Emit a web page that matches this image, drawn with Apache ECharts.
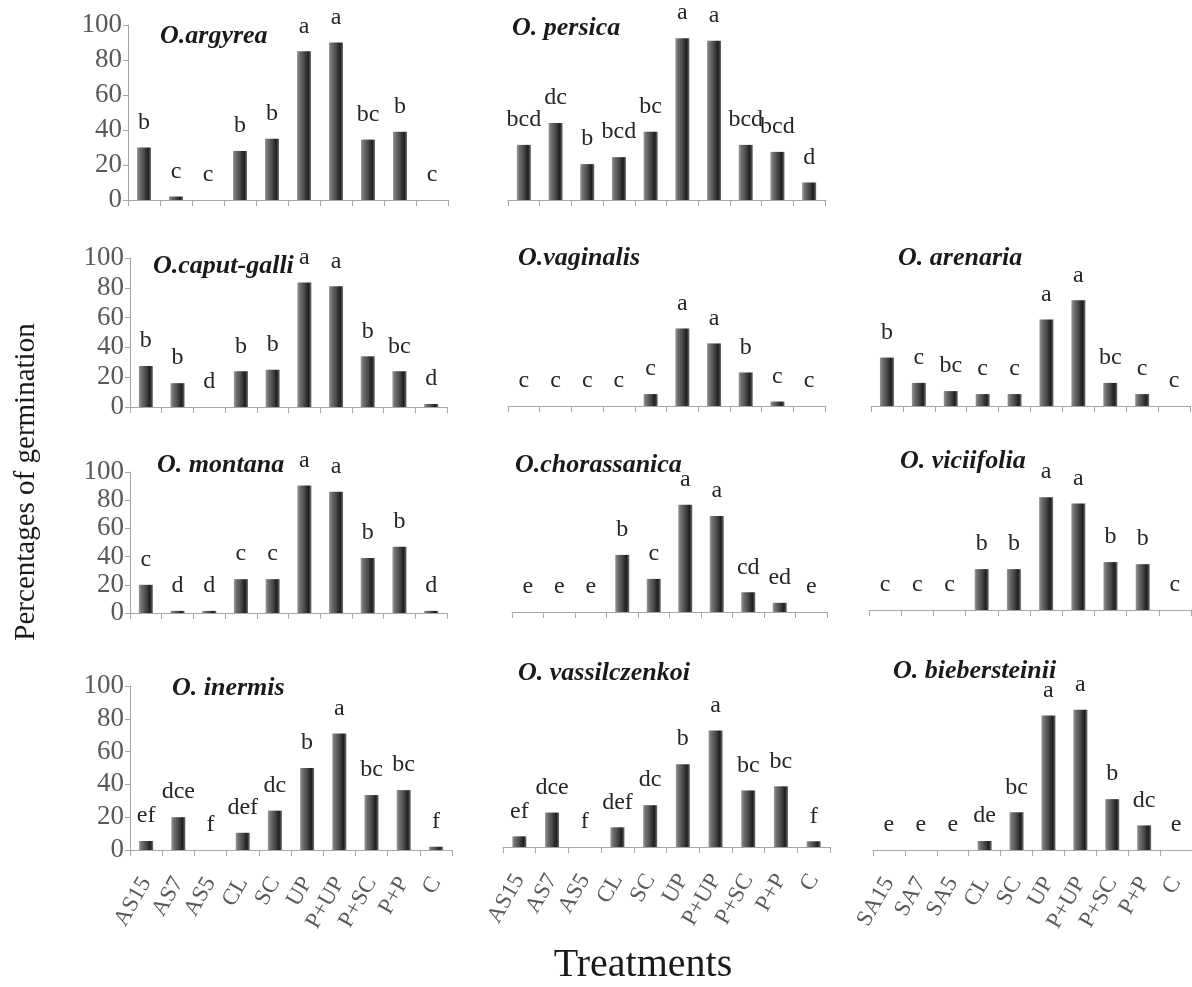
<!DOCTYPE html>
<html>
<head>
<meta charset="utf-8">
<script src="https://cdn.jsdelivr.net/npm/echarts@6/dist/echarts.min.js"></script>
<style>
html,body{margin:0;padding:0;background:#fff;}
#chart{width:1192px;height:987px;}
</style>
</head>
<body>
<div id="chart"></div>
<script>
// ---- data ----
const treatmentsA = ['AS15','AS7','AS5','CL','SC','UP','P+UP','P+SC','P+P','C'];
const treatmentsB = ['SA15','SA7','SA5','CL','SC','UP','P+UP','P+SC','P+P','C'];
const yTicks = [0, 20, 40, 60, 80, 100];

const species = ['O.argyrea','O. persica','O.caput-galli','O.vaginalis','O. arenaria',
  'O. montana','O.chorassanica','O. viciifolia','O. inermis','O. vassilczenkoi','O. biebersteinii'];

const argyrea      = [30, 2, 0, 28, 35, 85, 90, 34.5, 39, 0];
const persica      = [31.5, 44, 20.5, 24.5, 39, 92.5, 91, 31.5, 27.5, 10];
const caputGalli   = [27.5, 16, 0, 24, 25, 83.5, 81, 34, 24, 2];
const vaginalis    = [0, 0, 0, 0, 8, 52, 42, 22.5, 3, 0];
const arenaria     = [32.5, 15.5, 10, 8, 8, 58, 71, 15.5, 8, 0];
const montana      = [20, 1.5, 1.5, 24, 24, 90.5, 86, 39, 47, 1.5];
const chorassanica = [0, 0, 0, 40.5, 23.5, 76, 68, 14, 6.5, 0];
const viciifolia   = [0, 0, 0, 29, 29, 80, 75.5, 34, 32.5, 0];
const inermis      = [5.5, 20, 0, 10.5, 24, 50, 71, 33.5, 36.5, 2];
const vassilczenkoi= [6.5, 21, 0, 12, 25.5, 50.5, 71, 34.5, 37, 3.5];
const biebersteinii= [0, 0, 0, 5.5, 23, 82, 85.5, 31, 15, 0];

const lArgyrea      = ['b','c','c','b','b','a','a','bc','b','c'];
const lPersica      = ['bcd','dc','b','bcd','bc','a','a','bcd','bcd','d'];
const lCaputGalli   = ['b','b','d','b','b','a','a','b','bc','d'];
const lVaginalis    = ['c','c','c','c','c','a','a','b','c','c'];
const lArenaria     = ['b','c','bc','c','c','a','a','bc','c','c'];
const lMontana      = ['c','d','d','c','c','a','a','b','b','d'];
const lChorassanica = ['e','e','e','b','c','a','a','cd','ed','e'];
const lViciifolia   = ['c','c','c','b','b','a','a','b','b','c'];
const lInermis      = ['ef','dce','f','def','dc','b','a','bc','bc','f'];
const lVassilczenkoi= ['ef','dce','f','def','dc','b','a','bc','bc','f'];
const lBiebersteinii= ['e','e','e','de','bc','a','a','b','dc','e'];

const seriesValues = [argyrea, persica, caputGalli, vaginalis, arenaria, montana,
  chorassanica, viciifolia, inermis, vassilczenkoi, biebersteinii];
const seriesLetters = [lArgyrea, lPersica, lCaputGalli, lVaginalis, lArenaria, lMontana,
  lChorassanica, lViciifolia, lInermis, lVassilczenkoi, lBiebersteinii];

// ---- layout (pixels) ----
const panels = [
  {left:128, top:25,  width:320, height:175, col:0, bottom:false, tl:155, tt:18},
  {left:508, top:25,  width:317, height:175, col:1, bottom:false, tl:507, tt:10},
  {left:130, top:258, width:317, height:149, col:0, bottom:false, tl:148, tt:248},
  {left:508, top:257, width:317, height:149, col:1, bottom:false, tl:513, tt:240},
  {left:871, top:257, width:319, height:149, col:2, bottom:false, tl:893, tt:240},
  {left:130, top:472, width:317, height:141, col:0, bottom:false, tl:152, tt:447},
  {left:512, top:471, width:315, height:141, col:1, bottom:false, tl:510, tt:447},
  {left:869, top:469, width:322, height:141, col:2, bottom:false, tl:895, tt:443},
  {left:130, top:686, width:322, height:164, col:0, bottom:true,  tl:167, tt:670, cats:treatmentsA},
  {left:503, top:683, width:327, height:164, col:1, bottom:true,  tl:513, tt:655, cats:treatmentsA},
  {left:873, top:686, width:320, height:164, col:2, bottom:true,  tl:888, tt:653, cats:treatmentsB}
];

const serif = '"Liberation Serif","DejaVu Serif",serif';
const axisGray = '#a6a6a6';
const barGradient = new echarts.graphic.LinearGradient(0, 0, 1, 0, [
  {offset:0, color:'#9a9a9a'},
  {offset:0.18, color:'#707070'},
  {offset:0.5, color:'#4a4a4a'},
  {offset:0.8, color:'#1e1e1e'},
  {offset:1, color:'#6e6e6e'}
]);

const grid = [], xAxis = [], yAxis = [], series = [], title = [];
panels.forEach((p, i) => {
  grid.push({left:p.left, top:p.top, width:p.width, height:p.height, containLabel:false});
  xAxis.push({
    type:'category', gridIndex:i,
    data: p.cats || treatmentsA,
    axisLine:{show:true, lineStyle:{color:axisGray, width:1}},
    axisTick:{show:true, length:6, lineStyle:{color:axisGray}, alignWithLabel:false},
    axisLabel:{show:p.bottom, rotate:60, fontFamily:serif, fontSize:23, color:'#595959', margin:29, interval:0},
    splitLine:{show:false}
  });
  yAxis.push({
    type:'value', gridIndex:i, min:0, max:100, interval:20,
    show: p.col === 0,
    axisLine:{show:true, lineStyle:{color:axisGray}},
    axisTick:{show:true, length:5, lineStyle:{color:axisGray}},
    axisLabel:{show:true, fontFamily:serif, fontSize:27, color:'#595959', margin:6,
      formatter: v => yTicks.indexOf(v) >= 0 ? String(v) : ''},
    splitLine:{show:false}
  });
  const letters = seriesLetters[i];
  series.push({
    type:'bar', xAxisIndex:i, yAxisIndex:i, name:species[i],
    data: seriesValues[i], barWidth:14,
    itemStyle:{color:barGradient},
    label:{show:true, position:'top', distance:13, fontFamily:serif, fontSize:24, color:'#262626',
      formatter: prm => letters[prm.dataIndex]},
    silent:true, animation:false
  });
  title.push({text:species[i], left:p.tl, top:p.tt,
    textStyle:{fontFamily:serif, fontSize:26, fontWeight:'bold', fontStyle:'italic', color:'#1a1a1a'}});
});

const chart = echarts.init(document.getElementById('chart'), null, {renderer:'canvas'});
chart.setOption({
  animation:false,
  backgroundColor:'#ffffff',
  title, grid, xAxis, yAxis, series,
  graphic:[
    {type:'text', x:26, y:482, rotation:Math.PI/2,
      style:{text:'Percentages of germination', font:'29px ' + serif, fill:'#1a1a1a',
        textAlign:'center', textVerticalAlign:'middle'}},
    {type:'text', x:643, y:965,
      style:{text:'Treatments', font:'40px ' + serif, fill:'#1a1a1a', textAlign:'center', textVerticalAlign:'middle'}}
  ]
});
</script>
</body>
</html>
